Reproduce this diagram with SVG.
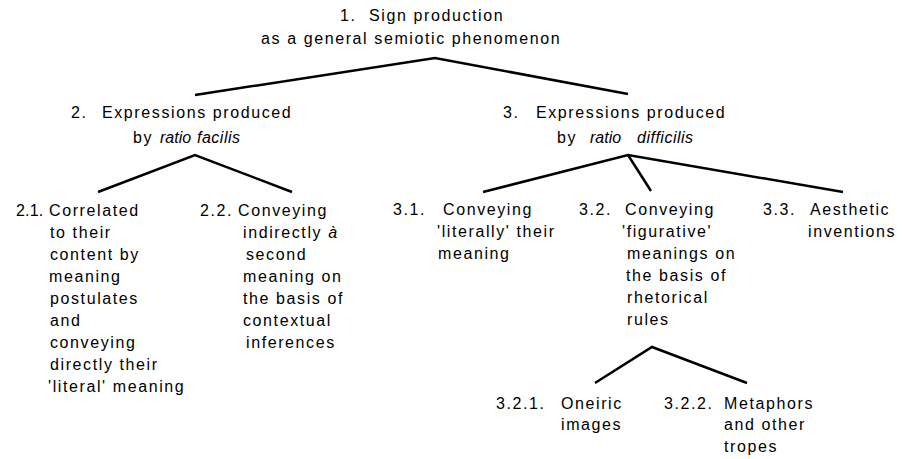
<svg xmlns="http://www.w3.org/2000/svg" width="904" height="459" viewBox="0 0 904 459">
<style>
text{font-family:"Liberation Sans",Arial,sans-serif;font-size:16px;letter-spacing:1.6px;fill:#000}
.i{font-style:italic;letter-spacing:0.5px}
.n{letter-spacing:0.2px}
.c{fill:none;stroke:#000;stroke-width:2.5;stroke-linejoin:miter;stroke-linecap:butt}
</style>
<rect width="904" height="459" fill="#fff"/>
<g id="connectors">
<polyline class="c" points="195,95 435,58 628,94"/>
<polyline class="c" points="98,192 195,155 292,192"/>
<polyline class="c" points="483,192 628,155 843,192"/>
<line class="c" x1="628" y1="155" x2="651" y2="191"/>
<polyline class="c" points="595,383 652,347 747,383"/>
</g>
<g id="n1">
<text x="340" y="21">1.</text><text x="369" y="21">Sign production</text>
<text x="261" y="44">as a general semiotic phenomenon</text>
</g>
<g id="n2">
<text x="71" y="118">2.</text><text x="102" y="118">Expressions produced</text>
<text y="143"><tspan x="133">by</tspan><tspan class="i" x="160" style="letter-spacing:0">ratio</tspan><tspan class="i" x="197">facilis</tspan></text>
</g>
<g id="n3">
<text x="503" y="118">3.</text><text x="536" y="118">Expressions produced</text>
<text y="143"><tspan x="557">by</tspan><tspan class="i" x="590" style="letter-spacing:0">ratio</tspan><tspan class="i" x="637">difficilis</tspan></text>
</g>
<g id="n21">
<text class="n" x="16" y="216">2.1.</text>
<text x="49" y="216">Correlated</text>
<text x="50" y="238">to their</text>
<text x="50" y="260">content by</text>
<text x="49" y="282">meaning</text>
<text x="50" y="304">postulates</text>
<text x="50" y="326">and</text>
<text x="50" y="348">conveying</text>
<text x="50" y="370">directly their</text>
<text x="48" y="392">'literal' meaning</text>
</g>
<g id="n22">
<text x="200" y="216">2.2.</text>
<text x="238" y="216">Conveying</text>
<text x="243" y="238">indirectly <tspan class="i">à</tspan></text>
<text x="246" y="260">second</text>
<text x="243" y="282">meaning on</text>
<text x="243" y="304">the basis of</text>
<text x="243" y="326">contextual</text>
<text x="246" y="348">inferences</text>
</g>
<g id="n31">
<text x="393" y="215">3.1.</text>
<text x="443" y="215">Conveying</text>
<text x="437" y="237">'literally' their</text>
<text x="438" y="259">meaning</text>
</g>
<g id="n32">
<text x="579" y="215">3.2.</text>
<text x="625" y="215">Conveying</text>
<text x="622" y="237">'figurative'</text>
<text x="627" y="259">meanings on</text>
<text x="626" y="281">the basis of</text>
<text x="627" y="303">rhetorical</text>
<text x="627" y="325">rules</text>
</g>
<g id="n33">
<text x="763" y="215">3.3.</text>
<text x="810" y="215">Aesthetic</text>
<text x="808" y="237">inventions</text>
</g>
<g id="n321">
<text x="496" y="409">3.2.1.</text>
<text x="561" y="409">Oneiric</text>
<text x="561" y="430">images</text>
</g>
<g id="n322">
<text x="664" y="409">3.2.2.</text>
<text x="724" y="409">Metaphors</text>
<text x="724" y="430">and other</text>
<text x="724" y="452">tropes</text>
</g>
</svg>
